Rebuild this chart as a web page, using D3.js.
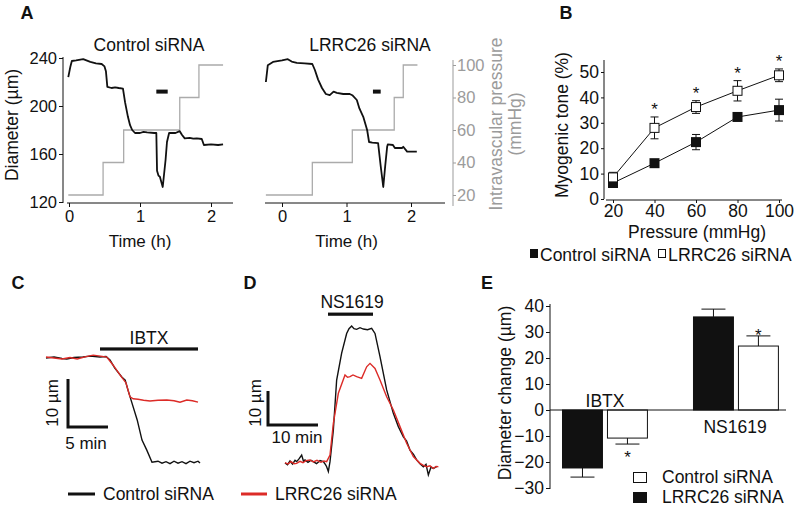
<!DOCTYPE html>
<html><head><meta charset="utf-8">
<script src="https://cdn.jsdelivr.net/npm/d3@7"></script>
<style>body{margin:0;background:#fff}svg text{font-family:"Liberation Sans",Arial,Helvetica,sans-serif}</style>
</head><body><svg id="c" width="800" height="511" xmlns="http://www.w3.org/2000/svg"></svg>
<script>
// ---------------- DATA ----------------
// Panel A
const timeTicksA = [0, 1, 2];
const diameterTicksA = [120, 160, 200, 240];
const pressureTicksA = [20, 40, 60, 80, 100];
const pressureLevels = [20, 40, 60, 80, 100];
const ctrlStepTimes = [-0.01, 0.48, 0.77, 1.56, 1.83, 2.17];
const lrrcStepTimes = [-0.25, 0.47, 1.09, 1.74, 1.88, 2.10];
const ctrlTraceT = [-0.01,0.02,0.04,0.1,0.2,0.3,0.38,0.46,0.5,0.52,0.54,0.6,0.65,0.7,0.76,0.79,0.83,0.86,0.89,0.93,1.0,1.05,1.1,1.2,1.23,1.24,1.26,1.28,1.32,1.36,1.38,1.41,1.5,1.56,1.59,1.63,1.7,1.75,1.8,1.87,1.9,2.0,2.1,2.17];
const ctrlTraceD = [224,233,237.5,238,239,236.7,235.5,235,233,229,216,215,215.6,215,214.5,203,191,184,180,177.5,177.5,178.4,178,177.5,177.5,146,142,141,132.5,155,170,177.5,177.5,179,176,173,173.5,172.8,173,172.5,167.5,168,167.5,168];
const lrrcTraceT = [-0.25,-0.22,-0.14,0.0,0.09,0.15,0.23,0.35,0.47,0.51,0.56,0.62,0.68,0.74,0.8,0.85,0.95,1.05,1.09,1.16,1.2,1.26,1.32,1.35,1.4,1.49,1.53,1.57,1.6,1.63,1.64,1.72,1.75,1.86,1.88,1.94,2.0,2.09];
const lrrcTraceD = [220,234,236.7,238,239,237,236,235.5,235,230,222,215,210,209,212,211,210,210,209,205,198,191,180,170,169.5,169,150,132.5,150,166,168,167.5,165,165,166,162,162,162];
const drugBarCtrlA = [1.23, 1.39];
const drugBarLrrcA = [1.41, 1.53];
const drugBarLevelA = 212;

// Panel B
const pressureB = [20, 40, 60, 80, 100];
const toneTicksB = [0, 10, 20, 30, 40, 50];
const ctrlTone = [6.3, 14.1, 22.4, 32.3, 35.0];
const ctrlToneErr = [0.8, 1.0, 3.0, 1.0, 4.3];
const lrrcTone = [8.5, 28.0, 36.2, 42.6, 48.7];
const lrrcToneErr = [2.0, 4.3, 2.5, 4.0, 2.5];
const sigB = [false, true, true, true, true];

// Panel C (IBTX), time in min, diameter change in um
const ibtxCtrlT = [0,1,2,2.6,3.5,4.6,5.5,6.75,7.5,8,8.6,9.5,9.9,10.25,10.75,11.4,12,12.6,13.25,14,14.5,15,15.5,16,16.5,17,17.5,18,18.5,19,19.25];
const ibtxCtrlD = [0,0.2,-0.1,-0.2,0.1,0.2,0.4,0.2,0.3,-0.4,-2.1,-4,-4.6,-6.7,-9.4,-12.9,-17.1,-19.2,-21.7,-21.5,-21.9,-21.6,-22,-21.5,-21.9,-21.6,-22,-21.5,-21.8,-21.5,-21.9];
const ibtxLrrcT = [0,1,2,3,3.9,5,5.9,6.8,7.6,8.4,9.25,10,10.5,10.9,11.5,12.2,13,14,15.1,16,16.75,17.6,18.3,19];
const ibtxLrrcD = [0.2,0,-0.2,0.1,-0.2,0.3,0.6,0.4,0.2,-1.5,-3.5,-5.2,-8.1,-8.5,-8.6,-8.8,-8.96,-8.8,-8.75,-8.9,-9.2,-8.75,-8.9,-9.2];
const ibtxBar = [6.75, 19];

// Panel D (NS1619)
const nsCtrlT = [0,0.5,1,1.5,2,2.33,2.8,3.33,3.7,4,4.6,5.2,5.67,6.3,7,7.67,8.1,8.33,8.67,9,9.67,10.33,11.33,12.33,12.8,13.33,13.8,14.33,15,15.67,16.5,17.33,18,19,20.33,21.67,22.67,23.67,24.3,25,25.7,26.33,27,27.67,28.2,28.67,29.2,29.67,30.33];
const nsCtrlD = [0,-0.5,0.6,-0.3,0.8,0.4,1.2,2.35,0.5,0.9,0.2,0.8,0.4,-0.2,0.7,0.4,-0.5,-1.1,-2.5,0.4,9.7,24.4,32.3,38.1,39.5,40.3,39.5,39.3,39.8,39.4,39.2,39.6,38.1,31.3,21.5,14.6,10.7,7.7,6.5,3.8,2.5,0.9,-0.2,-1.1,-0.4,-3.5,-1.2,-1.6,-1.1];
const nsLrrcT = [0,0.6,1.2,1.8,2.33,3,3.6,4.2,5,5.67,6.4,7.2,7.8,8.33,9,9.67,10.67,12,12.5,13,13.6,14.33,15.33,16.33,17,18,19,20.33,21.67,23,24.33,25.67,27,27.6,28.33,29,29.67,30.2,30.67];
const nsLrrcD = [0.1,-0.3,0.4,-0.2,-0.1,0.5,0.1,0.7,0.9,0.3,0.8,0.2,0.6,0.4,2.35,11.7,20.5,25.9,25.2,25.4,25.9,25.4,24.9,28.3,29.3,27.8,24.4,19.5,15.6,10.7,5.8,1.9,-0.1,-0.6,-1.1,-0.8,-1.6,-1.0,-1.1];
const nsBar = [8.6, 17.6];

// Panel E
const drugCats = ["IBTX", "NS1619"];
const changeTicksE = [-30, -20, -10, 0, 10, 20, 30, 40];
const lrrcChange = [-22.3, 35.8];   // black bars (legend: LRRC26 siRNA)
const lrrcChangeErr = [3.5, 3.0];
const ctrlChange = [-10.8, 24.6];   // white bars (legend: Control siRNA)
const ctrlChangeErr = [2.3, 3.9];
const sigE = [true, true];

// ---------------- DRAWING ----------------
const svg = d3.select("#c");
const FONT = '"Liberation Sans", Arial, Helvetica, sans-serif';
const RED = "#dc2b27";
const GRAY = "#9b9b9b";

function label(x, y, s, o = {}) {
  const t = svg.append("text").attr("x", x).attr("y", y).attr("dy", o.dy || "0.35em")
    .attr("text-anchor", o.anchor || "middle").attr("font-size", o.size || 17)
    .attr("fill", o.fill || "#111").attr("font-weight", o.bold ? "bold" : null).text(s);
  if (o.rot) t.attr("transform", `rotate(${o.rot},${x},${y})`);
  return t;
}
function styleAxis(g, color, size) {
  g.select(".domain").remove();
  g.selectAll("line").attr("stroke", color).attr("stroke-width", 1);
  g.selectAll("text").attr("fill", color).attr("font-size", size || 17).attr("font-family", FONT);
}
function hline(x1, x2, y, color, w) { svg.append("line").attr("x1", x1).attr("x2", x2).attr("y1", y).attr("y2", y).attr("stroke", color || "#111").attr("stroke-width", w || 1); }
function vline(x, y1, y2, color, w) { svg.append("line").attr("x1", x).attr("x2", x).attr("y1", y1).attr("y2", y2).attr("stroke", color || "#111").attr("stroke-width", w || 1); }

// ===== Panel A =====
label(27, 13, "A", { bold: true, size: 18 });
const xA1 = d3.scaleLinear().domain([0, 2]).range([69, 211]);
const xA2 = d3.scaleLinear().domain([0, 2]).range([282, 411]);
const yDiam = d3.scaleLinear().domain([120, 240]).range([202, 58]);
const yPress = d3.scaleLinear().domain([20, 100]).range([195, 65]);

label(149, 45, "Control siRNA", { size: 17.5 });
label(370, 45, "LRRC26 siRNA", { size: 17.5 });

// left y axis
const gyA = svg.append("g").attr("transform", "translate(63,0)")
  .call(d3.axisLeft(yDiam).tickValues(diameterTicksA).tickSize(4).tickSizeOuter(0).tickPadding(2));
styleAxis(gyA, "#111", 16.5);
vline(63, 57, 203);
label(12, 125, "Diameter (µm)", { rot: -90, size: 17.5 });

// bottom axes
[[xA1, 67, 233], [xA2, 265, 445]].forEach(([sc, a, b]) => {
  const g = svg.append("g").attr("transform", "translate(0,203)")
    .call(d3.axisBottom(sc).tickValues(timeTicksA).tickFormat(d3.format("d")).tickSize(4).tickSizeOuter(0).tickPadding(3));
  styleAxis(g, "#111", 16.5);
  hline(a, b, 203);
  label((sc(0) + sc(2)) / 2, 241, "Time (h)", { size: 17 });
});

// right pressure axis
const gyP = svg.append("g").attr("transform", "translate(453,0)")
  .call(d3.axisRight(yPress).tickValues(pressureTicksA).tickSize(3).tickSizeOuter(0).tickPadding(1));
styleAxis(gyP, GRAY, 16.5);
vline(453, 60, 206, GRAY);
label(496, 124, "Intravascular pressure", { rot: -90, fill: GRAY, size: 17.5 });
label(515, 124, "(mmHg)", { rot: -90, fill: GRAY, size: 17.5 });

// pressure steps
function stepPts(times) {
  const pts = pressureLevels.map((p, i) => [times[i], p]);
  pts.push([times[times.length - 1], pressureLevels[pressureLevels.length - 1]]);
  return pts;
}
[[xA1, ctrlStepTimes], [xA2, lrrcStepTimes]].forEach(([sc, times]) => {
  svg.append("path").datum(stepPts(times))
    .attr("d", d3.line().x(d => sc(d[0])).y(d => yPress(d[1])).curve(d3.curveStepAfter))
    .attr("fill", "none").attr("stroke", "#ababab").attr("stroke-width", 1.3);
});
// diameter traces
[[xA1, ctrlTraceT, ctrlTraceD], [xA2, lrrcTraceT, lrrcTraceD]].forEach(([sc, T, D]) => {
  svg.append("path").datum(T.map((t, i) => [t, D[i]]))
    .attr("d", d3.line().x(d => sc(d[0])).y(d => yDiam(d[1])))
    .attr("fill", "none").attr("stroke", "#111").attr("stroke-width", 1.8).attr("stroke-linejoin", "round");
});
// drug bars
[[xA1, drugBarCtrlA], [xA2, drugBarLrrcA]].forEach(([sc, b]) => {
  svg.append("rect").attr("x", sc(b[0])).attr("width", sc(b[1]) - sc(b[0]))
    .attr("y", yDiam(drugBarLevelA) - 2).attr("height", 4).attr("fill", "#111");
});

// ===== Panel B =====
label(566, 13, "B", { bold: true, size: 18 });
const xB = d3.scaleLinear().domain([20, 100]).range([613, 779]);
const yB = d3.scaleLinear().domain([0, 50]).range([199, 72]);
const gyB = svg.append("g").attr("transform", "translate(604,0)")
  .call(d3.axisLeft(yB).tickValues(toneTicksB).tickSize(3).tickSizeOuter(0).tickPadding(2));
styleAxis(gyB, "#111", 17.5);
vline(604, 60, 199);
const gxB = svg.append("g").attr("transform", "translate(0,200)")
  .call(d3.axisBottom(xB).tickValues(pressureB).tickSize(3).tickSizeOuter(0).tickPadding(2));
styleAxis(gxB, "#111", 17.5);
hline(606, 782, 200);
label(562, 125, "Myogenic tone (%)", { rot: -90, size: 17.5 });
label(697, 232, "Pressure (mmHg)", { size: 17.5 });

const lineB = d3.line().x((d, i) => xB(pressureB[i])).y(d => yB(d));
svg.append("path").datum(ctrlTone).attr("d", lineB).attr("fill", "none").attr("stroke", "#111").attr("stroke-width", 1);
svg.append("path").datum(lrrcTone).attr("d", lineB).attr("fill", "none").attr("stroke", "#111").attr("stroke-width", 1);
function errB(vals, errs) {
  vals.forEach((v, i) => {
    const x = xB(pressureB[i]);
    vline(x, yB(v + errs[i]), yB(v - errs[i]));
    hline(x - 4, x + 4, yB(v + errs[i]));
    hline(x - 4, x + 4, yB(v - errs[i]));
  });
}
errB(ctrlTone, ctrlToneErr);
errB(lrrcTone, lrrcToneErr);
const MS = 10;
svg.selectAll(".mc").data(ctrlTone).enter().append("rect")
  .attr("x", (d, i) => xB(pressureB[i]) - MS / 2).attr("y", d => yB(d) - MS / 2)
  .attr("width", MS).attr("height", MS).attr("fill", "#111");
svg.selectAll(".ml").data(lrrcTone).enter().append("rect")
  .attr("x", (d, i) => xB(pressureB[i]) - MS / 2 + 0.5).attr("y", d => yB(d) - MS / 2 + 0.5)
  .attr("width", MS - 1).attr("height", MS - 1).attr("fill", "#fff").attr("stroke", "#111").attr("stroke-width", 1);
lrrcTone.forEach((v, i) => {
  if (sigB[i]) label(xB(pressureB[i]), yB(v + lrrcToneErr[i]) - 2, "*", { dy: "0", size: 17 });
});
// legend B
svg.append("rect").attr("x", 530).attr("y", 249).attr("width", 8).attr("height", 9).attr("fill", "#111");
label(540, 255, "Control siRNA", { anchor: "start", size: 17.5 });
svg.append("rect").attr("x", 658.5).attr("y", 249.5).attr("width", 7).attr("height", 8).attr("fill", "#fff").attr("stroke", "#111");
label(668, 255, "LRRC26 siRNA", { anchor: "start", size: 17.8 });

// ===== Panel C =====
label(18, 283, "C", { bold: true, size: 18 });
const xC = d3.scaleLinear().domain([0, 10]).range([46, 126]);
const yC = d3.scaleLinear().domain([0, -10]).range([358, 406]);
const lineC = d3.line().x(d => xC(d[0])).y(d => yC(d[1]));
svg.append("path").datum(ibtxCtrlT.map((t, i) => [t, ibtxCtrlD[i]])).attr("d", lineC)
  .attr("fill", "none").attr("stroke", "#111").attr("stroke-width", 1.4);
svg.append("path").datum(ibtxLrrcT.map((t, i) => [t, ibtxLrrcD[i]])).attr("d", lineC)
  .attr("fill", "none").attr("stroke", RED).attr("stroke-width", 1.4);
svg.append("rect").attr("x", xC(ibtxBar[0])).attr("width", xC(ibtxBar[1]) - xC(ibtxBar[0]))
  .attr("y", yC(1.9) - 1.5).attr("height", 3.2).attr("fill", "#111");
label((xC(ibtxBar[0]) + xC(ibtxBar[1])) / 2, 338, "IBTX", { size: 17.5 });
// scale bar C (10 um, 5 min)
{
  const t0 = 2.75, d0 = -14.4;
  svg.append("path").attr("d", `M${xC(t0)},${yC(d0 + 10)}V${yC(d0)}H${xC(t0 + 5)}`)
    .attr("fill", "none").attr("stroke", "#111").attr("stroke-width", 3);
  label(52, 403, "10 µm", { rot: -90, size: 17 });
  label(86, 443, "5 min", { size: 17 });
}

// ===== Panel D =====
label(250, 283, "D", { bold: true, size: 18 });
const xD = d3.scaleLinear().domain([0, 10]).range([285, 335]);
const yD = d3.scaleLinear().domain([0, 10]).range([463, 429]);
const lineD = d3.line().x(d => xD(d[0])).y(d => yD(d[1]));
svg.append("path").datum(nsCtrlT.map((t, i) => [t, nsCtrlD[i]])).attr("d", lineD)
  .attr("fill", "none").attr("stroke", "#111").attr("stroke-width", 1.4);
svg.append("path").datum(nsLrrcT.map((t, i) => [t, nsLrrcD[i]])).attr("d", lineD)
  .attr("fill", "none").attr("stroke", RED).attr("stroke-width", 1.4);
svg.append("rect").attr("x", xD(nsBar[0])).attr("width", xD(nsBar[1]) - xD(nsBar[0]))
  .attr("y", yD(43.8) - 1.5).attr("height", 3.2).attr("fill", "#111");
label(352, 302, "NS1619", { size: 17.5 });
{
  const t0 = -3.4, d0 = 11.2;
  svg.append("path").attr("d", `M${xD(t0)},${yD(d0 + 10)}V${yD(d0)}H${xD(t0 + 10)}`)
    .attr("fill", "none").attr("stroke", "#111").attr("stroke-width", 3);
  label(255, 403, "10 µm", { rot: -90, size: 17 });
  label(297, 437, "10 min", { size: 17 });
}
// legend C/D
hline(68, 95, 494, "#111", 3);
label(103, 494, "Control siRNA", { anchor: "start", size: 17.5 });
hline(241, 267, 494, RED, 3);
label(275, 494, "LRRC26 siRNA", { anchor: "start", size: 17.5 });

// ===== Panel E =====
label(487, 283, "E", { bold: true, size: 18 });
const yE = d3.scaleLinear().domain([-30, 40]).range([488, 306]);
const xE = d3.scaleBand().domain(drugCats).range([548.9, 792]).paddingInner(0.344).paddingOuter(0.1);
const xEs = d3.scaleBand().domain(["lrrc", "ctrl"]).range([0, xE.bandwidth()]).paddingInner(0.089);
const gyE = svg.append("g").attr("transform", "translate(550,0)")
  .call(d3.axisLeft(yE).tickValues(changeTicksE).tickSize(4).tickSizeOuter(0).tickPadding(2));
styleAxis(gyE, "#111", 17.5);
vline(550, 304, 489);
label(505, 393, "Diameter change (µm)", { rot: -90, size: 17.5 });

function barsE(key, vals, errs, fill) {
  vals.forEach((v, i) => {
    const x = xE(drugCats[i]) + xEs(key), w = xEs.bandwidth();
    const y0 = yE(0), y1 = yE(v);
    svg.append("rect").attr("x", x + 0.5).attr("y", Math.min(y0, y1)).attr("width", w - 1)
      .attr("height", Math.abs(y1 - y0)).attr("fill", fill).attr("stroke", "#111").attr("stroke-width", 1);
    const ye = yE(v + Math.sign(v) * errs[i]);
    vline(x + w / 2, y1, ye);
    hline(x + w / 2 - 12, x + w / 2 + 12, ye);
  });
}
barsE("lrrc", lrrcChange, lrrcChangeErr, "#111");
barsE("ctrl", ctrlChange, ctrlChangeErr, "#fff");
hline(550, 786, yE(0));
ctrlChange.forEach((v, i) => {
  if (!sigE[i]) return;
  const x = xE(drugCats[i]) + xEs("ctrl") + xEs.bandwidth() / 2;
  const ye = yE(v + Math.sign(v) * ctrlChangeErr[i]);
  if (v < 0) label(x, ye + 19, "*", { dy: "0", size: 17 });
  else label(x, ye + 5, "*", { dy: "0", size: 17 });
});
label(605, 401, "IBTX", { size: 17.5 });
label(735, 427, "NS1619", { size: 17.5 });
// legend E
svg.append("rect").attr("x", 633.5).attr("y", 472.5).attr("width", 13).attr("height", 10).attr("fill", "#fff").attr("stroke", "#111");
label(662, 477, "Control siRNA", { anchor: "start", size: 17.5 });
svg.append("rect").attr("x", 633).attr("y", 492).attr("width", 14).attr("height", 11).attr("fill", "#111");
label(662, 497, "LRRC26 siRNA", { anchor: "start", size: 17.5 });
</script></body></html>
